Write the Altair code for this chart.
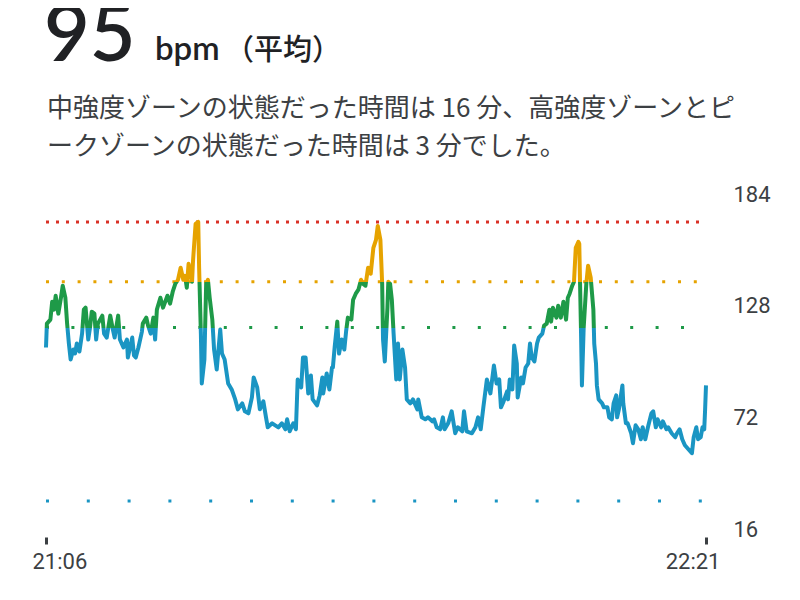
import altair as alt
import pandas as pd

# ---------------- text ----------------
HEADLINE_VALUE = "95"
HEADLINE_UNIT = "bpm"
HEADLINE_NOTE = "（平均）"
SUMMARY_LINES = [
    "中強度ゾーンの状態だった時間は 16 分、高強度ゾーンとピ",
    "ークゾーンの状態だった時間は 3 分でした。",
]

# ---------------- axes ----------------
START = dict(year=2024, month=1, date=1, hours=21, minutes=6)
END = dict(year=2024, month=1, date=1, hours=22, minutes=21)
Y_TICKS = [16, 72, 128, 184]

# ---------------- zone thresholds (bpm) ----------------
ZONE_LINES = [170, 140, 117, 30]
ZONE_CUT_LOW = 117   # fat-burn / cardio boundary
ZONE_CUT_HIGH = 140  # cardio / peak boundary

# ---------------- heart-rate series (minutes after 21:06, bpm) ----------------
MINUTES = [
    0.0, 0.1, 0.5, 0.7, 0.9, 1.1, 1.4, 1.7, 1.9, 2.2, 2.4, 2.6, 2.8, 3.1, 3.3, 3.5, 3.8,
    4.1, 4.3, 4.5, 4.8, 5.0, 5.2, 5.5, 5.7, 5.9, 6.4, 6.6, 6.9, 7.3, 7.6, 7.8, 8.2, 8.4,
    8.8, 9.2, 9.3, 9.8, 10.0, 10.2, 10.5, 10.9, 11.0, 11.4, 11.6, 11.9, 12.2, 12.4, 12.6,
    13.0, 13.3, 13.8, 14.1, 14.4, 14.7, 15.0, 15.3, 15.6, 15.8, 16.0, 16.2, 16.6, 16.7,
    17.0, 17.3, 17.4, 17.6, 17.7, 18.0, 18.2, 18.4, 18.6, 18.9, 19.1, 19.4, 19.8, 20.0,
    20.3, 20.7, 21.1, 21.5, 21.8, 22.3, 22.6, 23.0, 23.4, 23.6, 24.0, 24.3, 24.7, 25.0,
    25.2, 25.7, 26.4, 26.8, 27.2, 27.4, 27.7, 28.1, 28.4, 28.6, 29.0, 29.2, 29.5, 29.8,
    30.1, 30.3, 30.8, 31.1, 31.4, 31.5, 31.9, 32.2, 32.5, 32.6, 32.8, 33.1, 33.3, 33.6,
    33.9, 34.1, 34.3, 34.7, 34.9, 35.2, 35.5, 35.8, 36.0, 36.3, 36.6, 36.9, 37.2, 37.5,
    37.7, 38.0, 38.2, 38.3, 38.5, 38.8, 38.9, 39.1, 39.3, 39.5, 39.8, 40.0, 40.2, 40.5,
    40.8, 41.0, 41.4, 41.7, 42.2, 42.3, 42.7, 43.1, 43.4, 43.9, 44.1, 44.4, 44.8, 45.1,
    45.3, 45.7, 46.1, 46.5, 46.8, 47.3, 47.5, 47.8, 48.4, 48.8, 49.1, 49.4, 49.7, 50.1,
    50.5, 50.9, 51.2, 51.5, 51.7, 52.0, 52.4, 52.5, 52.7, 53.0, 53.2, 53.5, 53.6, 54.0,
    54.2, 54.5, 54.8, 55.0, 55.2, 55.5, 55.8, 56.0, 56.4, 56.6, 56.9, 57.2, 57.4, 57.6,
    58.0, 58.2, 58.5, 58.8, 59.1, 59.3, 59.5, 59.8, 60.0, 60.2, 60.5, 60.6, 60.8, 60.9,
    61.1, 61.4, 61.6, 61.9, 62.2, 62.3, 62.5, 62.6, 62.8, 63.2, 63.4, 63.8, 64.0, 64.3,
    64.5, 64.8, 64.9, 65.1, 65.5, 65.6, 65.9, 66.1, 66.5, 66.7, 67.0, 67.3, 67.6, 67.8,
    68.1, 68.4, 68.8, 69.0, 69.3, 69.5, 69.9, 70.1, 70.5, 70.7, 71.1, 71.5, 71.7, 72.0,
    72.3, 72.6, 73.0, 73.4, 73.6, 73.9, 74.1, 74.4, 74.6, 74.8, 74.9, 75.0,
]
BPM = [
    107, 119, 121, 130, 126, 133, 124, 132, 138, 132, 119, 109, 101, 106, 104, 109, 105,
    114, 126, 127, 111, 117, 125, 124, 111, 119, 123, 114, 112, 123, 116, 112, 123, 111,
    107, 111, 102, 112, 103, 102, 107, 115, 119, 122, 118, 114, 122, 111, 126,
    132, 127, 133, 129, 135, 139, 141, 147, 141, 143, 137, 149, 140, 150,
    169, 170, 147, 114, 89, 101, 139, 141, 132, 121, 106, 96, 116, 104,
    101, 89, 86, 81, 76, 79, 75, 74, 82, 92, 87, 76, 80, 72,
    67, 69, 67, 69, 66, 71, 65, 69, 66, 91, 87, 102, 102, 84,
    93, 81, 78, 83, 92, 84, 94, 86, 97, 97, 107, 120, 104, 111,
    106, 115, 122, 121, 131, 134, 136, 141, 139, 138, 147, 144, 157, 161,
    168, 161, 139, 111, 100, 127, 140, 139, 131, 114, 91, 109, 91, 106,
    97, 81, 79, 81, 76, 81, 72, 71, 72, 70, 71, 67, 66, 72,
    66, 69, 75, 64, 67, 65, 75, 65, 64, 67, 72, 66, 77, 91,
    84, 98, 89, 91, 77, 80, 85, 81, 91, 86, 108, 99, 82, 92,
    89, 97, 99, 109, 102, 100, 109, 112, 114, 118, 119, 126, 120, 127,
    122, 128, 122, 130, 121, 132, 134, 138, 140, 157, 160, 159, 114, 88,
    117, 139, 148, 142, 126, 109, 99, 88, 81, 79, 77, 77, 72, 71,
    79, 83, 72, 76, 88, 79, 69, 69, 64, 59, 68, 66, 61, 67,
    61, 67, 74, 75, 67, 71, 67, 70, 66, 67, 64, 62, 64, 66,
    61, 58, 56, 54, 62, 67, 61, 62, 67, 66, 76, 88,
]

# ---------------- styles ----------------
C_LOW = "#1a95c3"
C_MID = "#1e9a48"
C_HIGH = "#e6a300"
C_PEAK = "#d93025"
RULE_COLORS = [C_PEAK, C_HIGH, C_MID, C_LOW]
RULE_DASHES = [[3, 7], [3, 12.8], [3, 22.4], [3, 37.8]]
TEXT_DARK = "#202124"
TEXT_GREY = "#3c4043"
CJK = "Noto Sans CJK JP"
PLOT_W, PLOT_H = 660, 335

base_ts = pd.Timestamp(year=2024, month=1, day=1, hour=21, minute=6)
df = pd.DataFrame({"m": MINUTES, "bpm": BPM})
df["time"] = base_ts + pd.to_timedelta(df["m"], unit="min")

# gradient stops (objectBoundingBox: 0 = highest value, 1 = lowest value)
vmax, vmin = max(BPM), min(BPM)
o_high = (vmax - ZONE_CUT_HIGH) / (vmax - vmin)
o_low = (vmax - ZONE_CUT_LOW) / (vmax - vmin)
grad = alt.Gradient(
    gradient="linear",
    stops=[
        alt.GradientStop(offset=0, color=C_HIGH),
        alt.GradientStop(offset=o_high, color=C_HIGH),
        alt.GradientStop(offset=o_high, color=C_MID),
        alt.GradientStop(offset=o_low, color=C_MID),
        alt.GradientStop(offset=o_low, color=C_LOW),
        alt.GradientStop(offset=1, color=C_LOW),
    ],
    x1=0, x2=0, y1=0, y2=1,
)

x_enc = alt.X(
    "time:T",
    scale=alt.Scale(domain=[alt.DateTime(**START), alt.DateTime(**END)]),
    axis=alt.Axis(
        values=[alt.DateTime(**START), alt.DateTime(**END)],
        format="%H:%M", title=None, domain=False, grid=False,
        ticks=True, tickSize=7, tickWidth=3, tickColor=TEXT_GREY, offset=8,
        labelFont="Roboto", labelFontSize=22, labelColor=TEXT_GREY,
        labelPadding=7, labelFlush=True, labelFlushOffset=14,
    ),
)
y_enc = alt.Y(
    "bpm:Q",
    scale=alt.Scale(domain=[16, 184], nice=False, zero=False),
    axis=alt.Axis(
        orient="right", values=Y_TICKS, title=None, domain=False, grid=False,
        ticks=False, tickSize=0, labelPadding=27, labelBaseline="middle",
        labelFont="Roboto", labelFontSize=22, labelColor=TEXT_GREY,
    ),
)

layers = []
for val, col, dash in zip(ZONE_LINES, RULE_COLORS, RULE_DASHES):
    layers.append(
        alt.Chart(pd.DataFrame({"bpm": [val]}))
        .mark_rule(color=col, strokeWidth=3, strokeDash=dash, strokeCap="butt")
        .encode(y=y_enc, x=alt.value(0), x2=alt.value(PLOT_W))
    )

line = alt.Chart(df).mark_line(
    stroke=grad, strokeWidth=4, strokeJoin="round", strokeCap="butt"
).encode(x=x_enc, y=y_enc, order="m:Q")
layers.append(line)

one = pd.DataFrame({"k": [0]})


def label(text, font, size, color, x, y, weight="normal"):
    return alt.Chart(one).mark_text(
        text=text, font=font, fontSize=size, color=color, align="left",
        baseline="alphabetic", fontWeight=weight,
    ).encode(x=alt.value(x), y=alt.value(y))


layers.append(label(HEADLINE_VALUE, "Lato", 79, TEXT_DARK, -2, -133, weight=600))
layers.append(label(HEADLINE_UNIT, "Lato", 33, TEXT_DARK, 109, -134, weight=600))
layers.append(label(HEADLINE_NOTE, CJK, 29, TEXT_DARK, 179, -134, weight=500))
layers.append(label(SUMMARY_LINES[0], CJK, 26, TEXT_GREY, 1, -77))
layers.append(label(SUMMARY_LINES[1], CJK, 26, TEXT_GREY, 1, -39))

chart = (
    alt.layer(*layers)
    .properties(
        width=PLOT_W, height=PLOT_H,
        autosize=alt.AutoSizeParams(type="none"),
        padding={"left": 38, "top": 186, "right": 80, "bottom": 55},
        background="white",
    )
    .configure_view(strokeWidth=0, stroke=None)
)

chart.save("out.html", embed_options={"renderer": "svg", "actions": False})
